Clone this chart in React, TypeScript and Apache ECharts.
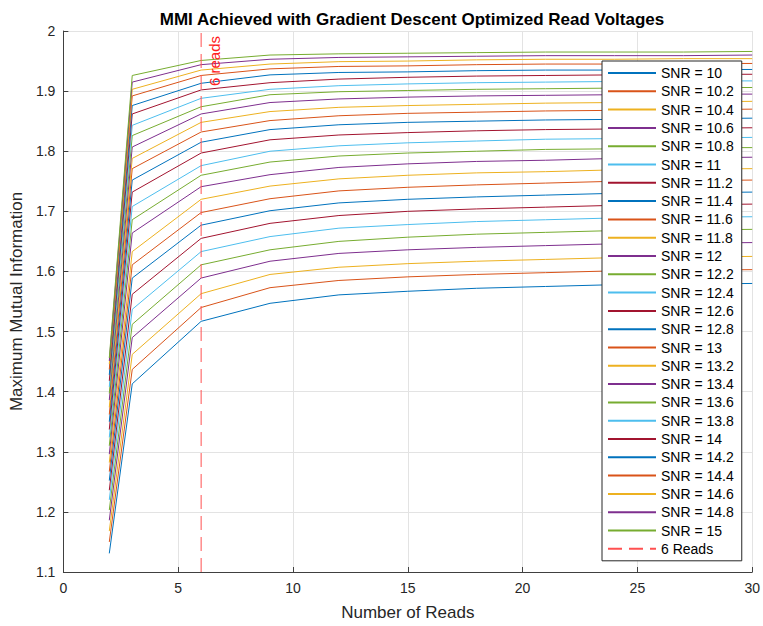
import React, { useEffect, useRef } from "react";
import * as echarts from "echarts";

const reads = [2, 3, 6, 9, 12, 15, 18, 21, 24, 27, 30];
const snrLabels = ["10", "10.2", "10.4", "10.6", "10.8", "11", "11.2", "11.4", "11.6", "11.8", "12", "12.2", "12.4", "12.6", "12.8", "13", "13.2", "13.4", "13.6", "13.8", "14", "14.2", "14.4", "14.6", "14.8", "15"];

const snr10 = [1.131, 1.413, 1.517, 1.547, 1.561, 1.567, 1.572, 1.575, 1.578, 1.579, 1.580];
const snr10_2 = [1.150, 1.437, 1.540, 1.573, 1.585, 1.591, 1.595, 1.598, 1.601, 1.602, 1.603];
const snr10_4 = [1.168, 1.462, 1.563, 1.595, 1.607, 1.613, 1.617, 1.620, 1.623, 1.624, 1.625];
const snr10_6 = [1.186, 1.490, 1.589, 1.617, 1.630, 1.636, 1.640, 1.643, 1.646, 1.647, 1.648];
const snr10_8 = [1.203, 1.512, 1.611, 1.636, 1.650, 1.657, 1.662, 1.665, 1.668, 1.669, 1.670];
const snr11 = [1.220, 1.537, 1.633, 1.658, 1.672, 1.678, 1.683, 1.686, 1.689, 1.690, 1.691];
const snr11_2 = [1.236, 1.562, 1.655, 1.680, 1.693, 1.700, 1.704, 1.707, 1.710, 1.711, 1.712];
const snr11_4 = [1.252, 1.589, 1.677, 1.701, 1.714, 1.720, 1.724, 1.727, 1.730, 1.731, 1.732];
const snr11_6 = [1.267, 1.611, 1.698, 1.721, 1.734, 1.740, 1.744, 1.747, 1.750, 1.751, 1.752];
const snr11_8 = [1.282, 1.633, 1.720, 1.742, 1.754, 1.760, 1.764, 1.766, 1.769, 1.770, 1.771];
const snr12 = [1.296, 1.664, 1.741, 1.761, 1.773, 1.779, 1.783, 1.785, 1.788, 1.789, 1.790];
const snr12_2 = [1.310, 1.686, 1.760, 1.782, 1.792, 1.797, 1.800, 1.803, 1.804, 1.806, 1.806];
const snr12_4 = [1.324, 1.708, 1.776, 1.800, 1.809, 1.814, 1.817, 1.820, 1.821, 1.822, 1.823];
const snr12_6 = [1.337, 1.732, 1.797, 1.819, 1.827, 1.831, 1.834, 1.836, 1.837, 1.838, 1.839];
const snr12_8 = [1.350, 1.752, 1.815, 1.836, 1.844, 1.848, 1.850, 1.852, 1.853, 1.854, 1.855];
const snr13 = [1.362, 1.771, 1.832, 1.851, 1.859, 1.863, 1.865, 1.867, 1.868, 1.869, 1.870];
const snr13_2 = [1.374, 1.788, 1.848, 1.866, 1.873, 1.876, 1.878, 1.880, 1.881, 1.882, 1.883];
const snr13_4 = [1.386, 1.807, 1.862, 1.881, 1.887, 1.890, 1.892, 1.893, 1.894, 1.895, 1.895];
const snr13_6 = [1.397, 1.826, 1.874, 1.894, 1.899, 1.901, 1.903, 1.904, 1.905, 1.906, 1.906];
const snr13_8 = [1.408, 1.843, 1.888, 1.903, 1.909, 1.912, 1.914, 1.915, 1.916, 1.917, 1.917];
const snr14 = [1.418, 1.862, 1.902, 1.914, 1.920, 1.923, 1.925, 1.926, 1.927, 1.928, 1.928];
const snr14_2 = [1.428, 1.876, 1.913, 1.927, 1.931, 1.932, 1.934, 1.935, 1.935, 1.936, 1.936];
const snr14_4 = [1.437, 1.892, 1.926, 1.937, 1.941, 1.942, 1.944, 1.945, 1.945, 1.946, 1.946];
const snr14_6 = [1.446, 1.903, 1.935, 1.945, 1.949, 1.950, 1.952, 1.953, 1.953, 1.954, 1.954];
const snr14_8 = [1.451, 1.915, 1.944, 1.953, 1.956, 1.957, 1.958, 1.959, 1.959, 1.959, 1.960];
const snr15 = [1.456, 1.926, 1.951, 1.960, 1.962, 1.963, 1.964, 1.965, 1.965, 1.965, 1.966];

const seriesValues = [snr10, snr10_2, snr10_4, snr10_6, snr10_8, snr11, snr11_2, snr11_4, snr11_6, snr11_8, snr12, snr12_2, snr12_4, snr12_6, snr12_8, snr13, snr13_2, snr13_4, snr13_6, snr13_8, snr14, snr14_2, snr14_4, snr14_6, snr14_8, snr15];

const markerReads = 6;
const yRange = [1.1, 2];
const xTicks = [0, 30, 5];

const palette = ["#0072BD", "#D95319", "#EDB120", "#7E2F8E", "#77AC30", "#4DBEEE", "#A2142F"];
const FONT = "Liberation Sans, Arial, Helvetica, sans-serif";

export default function App() {
  const ref = useRef<HTMLDivElement>(null);
  useEffect(() => {
    if (!ref.current) return;
    const chart = echarts.init(ref.current, null, { renderer: "svg" });
    const series: any[] = seriesValues.map((vals, i) => ({
      name: "SNR = " + snrLabels[i],
      type: "line",
      data: reads.map((r, j) => [r, vals[j]]),
      symbol: "none",
      lineStyle: { width: 1, color: palette[i % palette.length] },
      itemStyle: { color: palette[i % palette.length] },
      emphasis: { disabled: true },
      z: 2,
    }));
    series.push({
      name: "6 Reads",
      type: "line",
      data: [[markerReads, yRange[0]], [markerReads, yRange[1]]],
      symbol: "none",
      lineStyle: { width: 1, color: "#ff5050", type: [14, 7] },
      itemStyle: { color: "#ff5050" },
      emphasis: { disabled: true },
      z: 3,
    });
    chart.setOption({
      animation: false,
      backgroundColor: "#ffffff",
      textStyle: { fontFamily: FONT },
      title: {
        text: "MMI Achieved with Gradient Descent Optimized Read Voltages",
        left: 407,
        textAlign: "center",
        top: 6,
        textStyle: { fontSize: 17, fontWeight: "bold", color: "#000", fontFamily: FONT },
      },
      grid: { left: 62, right: 10, top: 31, bottom: 52, containLabel: false },
      legend: {
        orient: "vertical",
        left: 602,
        top: 61,
        padding: [5, 8, 5, 5],
        itemWidth: 48,
        itemHeight: 14,
        itemGap: 4.3,
        selectedMode: false,
        backgroundColor: "#ffffff",
        borderColor: "#262626",
        borderWidth: 1,
        borderRadius: 0,
        itemStyle: { opacity: 0 },
        textStyle: { fontSize: 14, color: "#000", fontFamily: FONT, lineHeight: 14 },
        data: series.map((s) => s.name),
        z: 10,
      },
      xAxis: {
        type: "value",
        min: xTicks[0],
        max: xTicks[1],
        interval: xTicks[2],
        name: "Number of Reads",
        nameLocation: "middle",
        nameGap: 32,
        nameTextStyle: { fontSize: 17, color: "#262626", fontFamily: FONT },
        axisLine: { onZero: false, lineStyle: { color: "#404040", width: 1 } },
        axisTick: { inside: true, length: 5, lineStyle: { color: "#404040" } },
        axisLabel: { fontSize: 14, color: "#262626", margin: 9, fontFamily: FONT },
        splitLine: { show: true, lineStyle: { color: "#e3e3e3", width: 1 } },
      },
      yAxis: {
        type: "value",
        min: yRange[0],
        max: yRange[1],
        interval: 0.1,
        name: "Maximum Mutual Information",
        nameLocation: "middle",
        nameGap: 38,
        nameTextStyle: { fontSize: 17, color: "#262626", fontFamily: FONT },
        axisLine: { show: true, onZero: false, lineStyle: { color: "#404040", width: 1 } },
        axisTick: { show: true, inside: true, length: 5, lineStyle: { color: "#404040" } },
        axisLabel: {
          fontSize: 14,
          color: "#262626",
          margin: 8,
          fontFamily: FONT,
          formatter: (v: number) => String(Number(v.toFixed(1))),
        },
        splitLine: { show: true, lineStyle: { color: "#e3e3e3", width: 1 } },
      },
      series,
    });
    const p = chart.convertToPixel({ xAxisIndex: 0, yAxisIndex: 0 }, [markerReads, yRange[1]]) as number[];
    chart.setOption({
      graphic: [
        {
          type: "text",
          x: p[0] + 13,
          y: p[1] + 5,
          rotation: Math.PI / 2,
          z: 20,
          style: {
            text: "6 reads",
            fill: "#ff2020",
            font: "15px " + FONT,
            align: "right",
            verticalAlign: "middle",
          },
        },
      ],
    });
    return () => chart.dispose();
  }, []);
  return <div ref={ref} style={{ position: "fixed", left: 0, top: 0, width: 763, height: 626 }} />;
}
